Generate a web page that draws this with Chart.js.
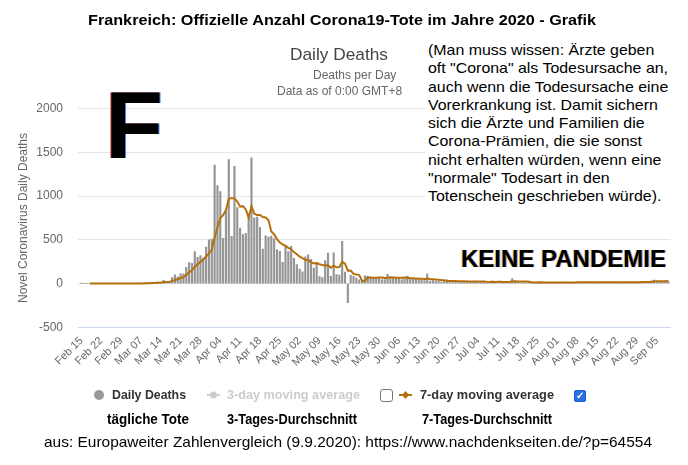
<!DOCTYPE html>
<html><head><meta charset="utf-8">
<script src="https://cdn.jsdelivr.net/npm/chart.js@4.4.1/dist/chart.umd.min.js"></script>
<style>
html,body{margin:0;padding:0;background:#fff;}
#wrap{position:relative;width:688px;height:465px;overflow:hidden;font-family:"Liberation Sans",Arial,sans-serif;}
#c{position:absolute;left:0;top:0;}
.t{position:absolute;white-space:nowrap;transform-origin:0 0;}
.b{font-weight:bold;}
</style></head><body>
<div id="wrap">
<canvas id="c" width="688" height="465"></canvas>

<div class="t b" id="title" style="left:88px;top:12px;font-size:14px;line-height:16px;color:#000;">Frankreich: Offizielle Anzahl Corona19-Tote im Jahre 2020 - Grafik</div>
<div class="t" id="ctitle" style="left:290px;top:45px;font-size:17px;line-height:20px;color:#444;">Daily Deaths</div>
<div class="t" style="left:313px;top:68px;font-size:12px;line-height:14px;color:#666;">Deaths per Day</div>
<div class="t" style="left:277px;top:84px;font-size:12px;line-height:14px;color:#666;">Data as of 0:00 GMT+8</div>

<div class="t b" style="left:105px;top:77.6px;font-size:95px;line-height:95px;color:#000;text-shadow:-1px 0 0 rgba(190,0,0,0.7),1px 0 0 rgba(0,90,230,0.7);">F</div>

<div id="note" style="position:absolute;left:425px;top:40px;width:263px;height:168px;background:#fff;">
  <div id="noteInner" class="t" style="left:3px;top:1px;font-size:15px;line-height:18.3px;color:#000;">
  (Man muss wissen: Ärzte geben<br>
  <span id="refline">oft &quot;Corona&quot; als Todesursache an,</span><br>
  auch wenn die Todesursache eine<br>
  Vorerkrankung ist. Damit sichern<br>
  sich die Ärzte und Familien die<br>
  Corona-Prämien, die sie sonst<br>
  nicht erhalten würden, wenn eine<br>
  &quot;normale&quot; Todesart in den<br>
  Totenschein geschrieben würde).
  </div>
</div>

<div class="t b" id="keine" style="left:461px;top:247.3px;font-size:24px;line-height:24px;color:#000;text-shadow:-1px 0 0 rgba(255,170,0,0.8),1px 0 0 rgba(0,80,255,0.6);">KEINE PANDEMIE</div>

<!-- legend -->
<div style="position:absolute;left:94px;top:390px;width:10px;height:10px;border-radius:50%;background:#999;"></div>
<div class="t b" id="lg1" style="left:112px;top:388px;font-size:12px;line-height:14px;color:#333;">Daily Deaths</div>
<svg style="position:absolute;left:205px;top:389px" width="17" height="12"><line x1="2" y1="6" x2="15" y2="6" stroke="#ccc" stroke-width="2"/><circle cx="8.5" cy="6" r="3.5" fill="#ccc"/></svg>
<div class="t b" id="lg2" style="left:227px;top:388px;font-size:12px;line-height:14px;color:#ccc;">3-day moving average</div>
<div style="position:absolute;left:380px;top:389px;width:11px;height:11px;border:1px solid #777;border-radius:3px;background:#fff;"></div>
<svg style="position:absolute;left:397px;top:389px" width="17" height="12"><line x1="2" y1="6" x2="15" y2="6" stroke="#b5700c" stroke-width="2"/><path d="M8.5 2 L12 6 L8.5 10 L5 6 Z" fill="#b5700c"/></svg>
<div class="t b" id="lg3" style="left:420px;top:388px;font-size:12px;line-height:14px;color:#333;">7-day moving average</div>
<div style="position:absolute;left:574px;top:390px;width:10px;height:10px;border:1px solid #1a5fd6;border-radius:2px;background:#2a6fe0;color:#fff;font-size:10px;line-height:10px;text-align:center;font-weight:bold;">&#10003;</div>

<div class="t b" id="r1" style="left:107px;top:411px;font-size:14px;line-height:16px;color:#000;">tägliche Tote</div>
<div class="t b" id="r2" style="left:227px;top:411px;font-size:14px;line-height:16px;color:#000;">3-Tages-Durchschnitt</div>
<div class="t b" id="r3" style="left:422px;top:411px;font-size:14px;line-height:16px;color:#000;">7-Tages-Durchschnitt</div>

<div class="t" id="src" style="left:44px;top:433px;font-size:15px;line-height:18px;color:#000;">aus: Europaweiter Zahlenvergleich (9.9.2020): https://www.nachdenkseiten.de/?p=64554</div>
</div>

<script>
// x-axis tick labels (every 7 days, day index from Feb 15 2020)
const tickLabels = ["Feb 15","Feb 22","Feb 29","Mar 07","Mar 14","Mar 21","Mar 28","Apr 04","Apr 11","Apr 18","Apr 25","May 02","May 09","May 16","May 23","May 30","Jun 06","Jun 13","Jun 20","Jun 27","Jul 04","Jul 11","Jul 18","Jul 25","Aug 01","Aug 08","Aug 15","Aug 22","Aug 29","Sep 05"];
const tickDays = [0,7,14,21,28,35,42,49,56,63,70,77,84,91,98,105,112,119,126,133,140,147,154,161,168,175,182,189,196,203];
const yTicks = [-500,0,500,1000,1500,2000];

// Daily deaths, Feb 15 .. Sep 09 2020 (one value per day)
const dailyDeaths = [
 1,0,0,0,0,0,0,0,0,0,0,1,0,0,0,
 0,1,1,0,2,2,2,8,6,8,15,13,18,12,36,21,27,69,100,78,112,112,186,240,231,365,299,319,292,418,499,
 509,1355,1120,1053,518,833,1417,541,1341,870,635,561,574,762,1438,753,761,642,395,547,531,544,516,389,369,242,437,367,427,289,
 218,166,135,306,330,278,178,243,80,70,263,348,83,351,104,96,483,131,-217,95,83,64,43,35,90,85,75,70,70,60,45,
 45,107,81,70,65,60,45,54,87,60,55,50,45,40,35,111,30,35,25,30,20,25,44,30,25,30,20,15,25,30,
 25,20,30,15,20,25,10,15,30,20,25,15,10,20,25,57,30,15,10,15,10,12,15,10,20,15,10,14,12,15,10,
 12,15,10,18,12,15,10,20,15,12,18,15,12,10,16,15,12,18,15,14,20,16,12,15,18,20,15,18,14,16,20,
 22,25,28,40,30,20,25,28,30
];

// 7-day moving average, read per day (same dates)
const avg7 = [
 null,null,null,0.1,0.1,0.1,0.1,0,0,0,0,0.1,0.1,0.1,0.1,
 0.1,0.3,0.4,0.3,0.6,0.9,1.1,2.3,3,4,6.1,7.7,10,11.4,15.4,17.6,20.3,28,40.4,49,63.3,74.1,97.7,128.1,151.3,189.1,220.7,250.3,276,309.1,346.1,
 385.9,527.3,644.6,749.4,781.7,841,972.1,976.7,974.7,939,879.3,885.4,848.4,754.9,883,799,783.4,784.4,760.7,756.9,723.9,596.1,562.3,509.1,470.1,448.3,432.6,409.1,392.4,360,
 335.6,306.6,291.3,272.6,267.3,246,230.1,233.7,221.4,212.1,206,208.6,180.7,205.4,185.6,187.9,246.9,228,147.3,149,110.7,105,97.4,33.4,27.6,70.7,67.9,66,66.9,69.3,70.7,
 64.3,67.4,68.3,68.3,67.6,67.6,67.6,68.9,66,63,60.9,58.7,56.6,55.9,53.1,56.6,52.3,49.4,45.9,43.7,40.9,39.4,29.9,29.9,28.4,29.1,27.7,27,27,25,
 24.3,23.6,23.6,22.9,23.6,23.6,20.7,19.3,20.7,19.3,20.7,20,17.9,19.3,20.7,24.6,26,24.6,23.9,24.6,23.1,21.3,15.3,12.4,13.1,13.9,13.1,13.7,13.7,13.7,13.7,
 12.6,12.6,12.6,13.1,13.1,13.1,13.1,14.3,14.3,14.6,14.6,15,14.6,14.6,14,14,14,14,14,14.3,15.7,15.7,15.3,15.7,15.7,16.4,16.6,16.3,16,16.6,17.3,
 17.9,18.6,20.4,23.6,25.9,26.4,27.1,28,28.7
];

const FONT = '"Liberation Sans", Arial, sans-serif';
const BAR = '#959595';
const LINE = '#b5700c';

new Chart(document.getElementById('c').getContext('2d'), {
  data: {
    datasets: [
      { type: 'line', label: '7-day moving average', data: avg7.map((v, i) => ({x: i, y: v})),
        borderColor: LINE, borderWidth: 2, pointRadius: 0, tension: 0, order: 0 },
      { type: 'bar', label: 'Daily Deaths', data: dailyDeaths.map((v, i) => ({x: i, y: v})),
        backgroundColor: BAR, barThickness: 1.5, order: 1 }
    ]
  },
  options: {
    responsive: false, animation: false, devicePixelRatio: 1,
    layout: { padding: { left: 0, top: 108.7, right: 17.3, bottom: 87.7 } },
    plugins: { legend: { display: false }, tooltip: { enabled: false } },
    scales: {
      x: {
        type: 'linear', min: -1.2, max: 207.9, offset: false,
        afterBuildTicks: s => { s.ticks = tickDays.map(v => ({ value: v })); },
        afterFit: s => { s.height = 50; },
        ticks: { autoSkip: false, maxRotation: 45, minRotation: 45, color: '#666',
                 font: { size: 11, family: FONT }, padding: 7,
                 callback: (v, i) => tickLabels[i] },
        grid: { display: false, drawTicks: false },
        border: { display: true, color: '#ccd6eb' }
      },
      y: {
        min: -500, max: 2000,
        afterBuildTicks: s => { s.ticks = yTicks.map(v => ({ value: v })); },
        afterFit: s => { s.width = 78; },
        ticks: { color: '#666', font: { size: 12, family: FONT }, padding: 15,
                 callback: v => String(v) },
        grid: { color: c => (c.tick && c.tick.value === -500) ? '#ccd6eb' : '#e6e6e6', drawTicks: false },
        border: { display: false },
        title: { display: true, text: 'Novel Coronavirus Daily Deaths', color: '#666',
                 font: { size: 12, family: FONT }, padding: { top: 16, bottom: 0 } }
      }
    }
  }
});

function fit(id, w) {
  const el = document.getElementById(id);
  const r = el.getBoundingClientRect().width;
  if (r > 0) el.style.transform = 'scaleX(' + (w / r) + ')';
}
function fitAll() {
  fit('title', 508);
  fit('src', 608);
  fit('keine', 205);
  fit('r1', 82); fit('r2', 130); fit('r3', 130);
  fit('lg1', 74); fit('lg2', 133); fit('lg3', 134);
  fit('ctitle', 98);
  const ref = document.getElementById('refline').getBoundingClientRect().width;
  if (ref > 0) document.getElementById('noteInner').style.transform = 'scaleX(' + (240 / ref) + ')';
}
fitAll();
</script>
</body></html>
